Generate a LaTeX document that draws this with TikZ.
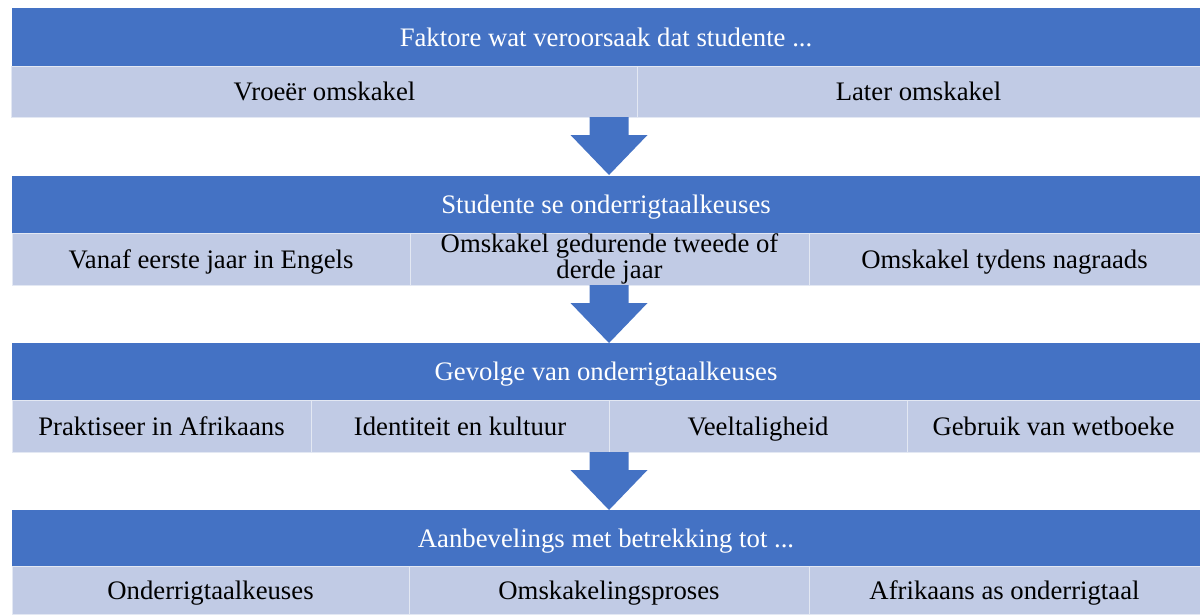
\documentclass[tikz,border=0pt]{standalone}
\usepackage{fontspec}
\setmainfont{Liberation Serif}
\usepackage{tikz}
\usetikzlibrary{calc}
\definecolor{bandblue}{RGB}{68,114,196}
\definecolor{celllight}{RGB}{193,203,229}
\tikzstyle{header} = [rectangle, fill=bandblue, text=white, inner sep=0pt,
    font=\fontsize{19}{20}\selectfont, minimum width=29.7cm, minimum height=1.45cm,
    text height=13pt, text depth=0.2pt]
\tikzstyle{cell} = [rectangle, fill=celllight, draw=white!55!celllight, line width=0.6pt,
    inner sep=0pt, align=center, font=\fontsize{19}{19}\selectfont, minimum height=1.3cm,
    text height=13pt, text depth=0.2pt]
\tikzstyle{bigarrow} = [fill=bandblue]

\begin{document}
\begin{tikzpicture}[x=0.025cm, y=-0.025cm]
        \useasboundingbox (0,0) rectangle (1200,614);
        % Place nodes
        \node [header] (faktore) at (606,37) {Faktore wat veroorsaak dat studente ...};
        \node [cell, minimum width=15.625cm, minimum height=1.275cm] (vroeer) at (324.5,91.5) {Vroeër omskakel};
        \node [cell, minimum width=14.075cm, minimum height=1.275cm] (later) at (918.5,91.5) {Later omskakel};

        \node [header, minimum height=1.425cm] (keuses) at (606,204.5) {Studente se onderrigtaalkeuses};
        \node [cell, minimum width=9.95cm] (eerste) at (211,259) {Vanaf eerste jaar in Engels};
        \node [cell, minimum width=9.975cm, text height=, text depth=] (tweede) at (609.5,259) {Omskakel gedurende tweede of\\derde jaar};
        \node [cell, minimum width=9.775cm] (nagraads) at (1004.5,259) {Omskakel tydens nagraads};

        \node [header, minimum height=1.425cm] (gevolge) at (606,371.5) {Gevolge van onderrigtaalkeuses};
        \node [cell, minimum width=7.475cm] (praktiseer) at (161.5,426) {Praktiseer in Afrikaans};
        \node [cell, minimum width=7.45cm] (identiteit) at (460,426) {Identiteit en kultuur};
        \node [cell, minimum width=7.45cm] (veeltalig) at (758,426) {Veeltaligheid};
        \node [cell, minimum width=7.325cm] (wetboeke) at (1053.5,426) {Gebruik van wetboeke};

        \node [header, minimum height=1.4cm] (aanbeveling) at (606,538) {Aanbevelings met betrekking tot ...};
        \node [cell, minimum width=9.925cm, minimum height=1.2cm] (keusesB) at (210.5,590) {Onderrigtaalkeuses};
        \node [cell, minimum width=10cm, minimum height=1.2cm] (proses) at (609,590) {Omskakelingsproses};
        \node [cell, minimum width=9.775cm, minimum height=1.2cm] (taal) at (1004.5,590) {Afrikaans as onderrigtaal};
        % Draw edges
        \coordinate (a1) at (609,117);
        \coordinate (a2) at (609,285);
        \coordinate (a3) at (609,452);
        \foreach \a in {a1,a2,a3}
            \fill [bigarrow] (\a) ++(-19.5,0) -- ++(0,18) -- ++(-19,0) -- ++(38.5,40)
                -- ++(38.5,-40) -- ++(-19,0) -- ++(0,-18) -- cycle;
    \end{tikzpicture}
\end{document}
